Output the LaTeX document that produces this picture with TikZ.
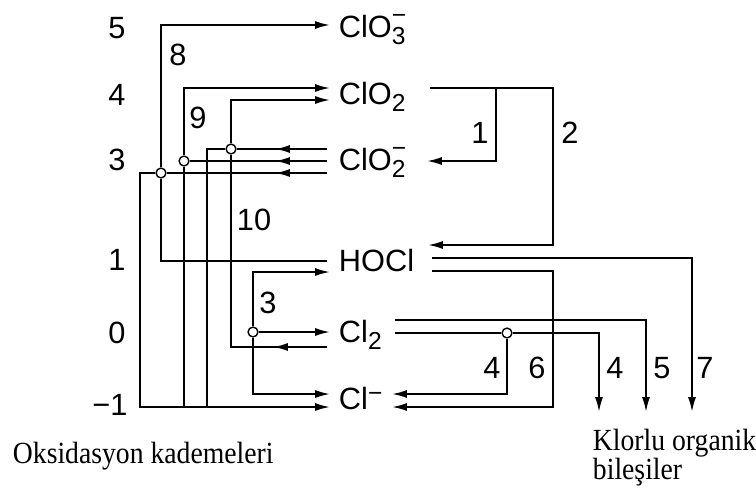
\documentclass[tikz,border=0pt]{standalone}
\usepackage{fontspec}
\setmainfont{Liberation Sans}
\newfontfamily\trfont[FakeStretch=0.9]{Liberation Serif}
\usepackage{tikz}
\usetikzlibrary{arrows.meta,calc}

\newcommand{\chsub}[1]{\raisebox{-4.5pt}{\fontsize{14}{14}\selectfont#1}}
\newcommand{\chion}[1]{\rlap{\chsub{#1}}\raisebox{7.5pt}{\fontsize{14}{14}\selectfont −}}

\begin{document}
\begin{tikzpicture}[x=0.02cm,y=-0.02cm,>={Latex[length=8.5pt,width=4.6pt]},line width=1.1pt,
	every node/.style={font=\fontsize{17.5}{20}\selectfont},
	chem/.style={anchor=base west,inner sep=0pt},
	dot/.style={circle,draw,fill=white,inner sep=0pt,minimum size=5.6pt,line width=0.8pt},
	note/.style={anchor=base west,inner sep=0pt,align=left,font=\trfont\fontsize{17.5}{16.4}\selectfont}]
	  \useasboundingbox (0,0) rectangle (756,495);
	  % oxidation levels
	  \node (lv5) at (117,28) {5};
	  \node (lv4) at (117,95) {4};
	  \node (lv3) at (117,160) {3};
	  \node (lv1) at (117,260) {1};
	  \node (lv0) at (117,333) {0};
	  \node (lvm1) at (110,405) {−1};
	  % species
	  \node[chem] (clo3) at (338,37) {ClO\chion{3}};
	  \node[chem] (clo2) at (338,104) {ClO\chsub{2}};
	  \node[chem] (clo2m) at (338,170) {ClO\chion{2}};
	  \node[chem] (hocl) at (338,271) {HOCl};
	  \node[chem] (cl2) at (338,342) {Cl\chsub{2}};
	  \node[chem] (clm) at (338,409) {Cl\raisebox{4.3pt}{\fontsize{14}{14}\selectfont −}};
	  % ports on the species
	  \foreach \s/\n/\dx/\dy in {clo3/clo3-in/-8/-12,
	      clo2/clo2-in1/-8/-16, clo2/clo2-in2/-8/-4, clo2/clo2-out/92/-16,
	      clo2m/clo2m-a/-11/-21, clo2m/clo2m-b/-11/-9, clo2m/clo2m-c/-11/3, clo2m/clo2m-in/89/-9,
	      hocl/hocl-a/-11/-10, hocl/hocl-in1/-8/1, hocl/hocl-in2/90/-26, hocl/hocl-b/94/-13, hocl/hocl-c/94/0,
	      cl2/cl2-in/-8/-10, cl2/cl2-a/-11/5, cl2/cl2-b/57/-22, cl2/cl2-c/57/-9,
	      clm/clm-in1/-8/-15, clm/clm-in2/-8/-2, clm/clm-in3/54/-15, clm/clm-in4/54/-2}
	    \coordinate (\n) at ($(\s.base west)+(\dx,\dy)$);
	  \coordinate (org4) at (599,412);
	  \coordinate (org5) at (646,412);
	  \coordinate (org7) at (692,412);
	  % junctions
	  \node[dot] (j8) at (161,173) {};
	  \node[dot] (j9) at (184,161) {};
	  \node[dot] (j10) at (231,149) {};
	  \node[dot] (j3) at (253,332) {};
	  \node[dot] (j4) at (507,333) {};
	  % 8
	  \draw[->] (clo2m-c) -- (j8) -- (140,173) |- (clm-in2);
	  \draw[->] (clo2m-c) -- ++(-52,0);
	  \draw (hocl-a) -| (j8);
	  \draw[->] (j8) |- (clo3-in);
	  % 9
	  \draw (clo2m-b) -- (j9) -- (j9 |- clm-in2);
	  \draw[->] (clo2m-b) -- ++(-52,0);
	  \draw[->] (j9) |- (clo2-in1);
	  % 10
	  \draw (clo2m-a) -- (j10) -- (207,149) -- (207,149 |- clm-in2);
	  \draw[->] (clo2m-a) -- ++(-52,0);
	  \draw[->] (j10) |- (clo2-in2);
	  \draw (cl2-a) -| (j10);
	  \draw[->] (cl2-a) -- ++(-54,0);
	  % 3
	  \draw[->] (j3) -- (cl2-in);
	  \draw[->] (j3) |- (hocl-in1);
	  \draw[->] (j3) |- (clm-in1);
	  % 1 and 2
	  \draw[->] (clo2-out) -- (553,88) |- (hocl-in2);
	  \draw[->] (496,88) |- (clo2m-in);
	  % 4 to 7
	  \draw[->] (hocl-b) -| (org7);
	  \draw[->] (hocl-c) -- (553,271) |- (clm-in4);
	  \draw[->] (cl2-b) -| (org5);
	  \draw[->] (cl2-c) -- (j4) -| (org4);
	  \draw[->] (j4) |- (clm-in3);
	  % reaction numbers
	  \node (r8) at (178,55) {8};
	  \node (r9) at (198,118) {9};
	  \node (r10) at (254,220) {10};
	  \node (r3) at (268,303) {3};
	  \node (r1) at (480,133) {1};
	  \node (r2) at (570,133) {2};
	  \node (r4a) at (492,368) {4};
	  \node (r6) at (537,368) {6};
	  \node (r4b) at (615,368) {4};
	  \node (r5) at (662,368) {5};
	  \node (r7) at (705,368) {7};
	  % captions
	  \node[note] (levels) at (12,463) {Oksidasyon kademeleri};
	  \node[note] (organic) at (592,479) {Klorlu organik\\bileşiler};
	\end{tikzpicture}
\end{document}
